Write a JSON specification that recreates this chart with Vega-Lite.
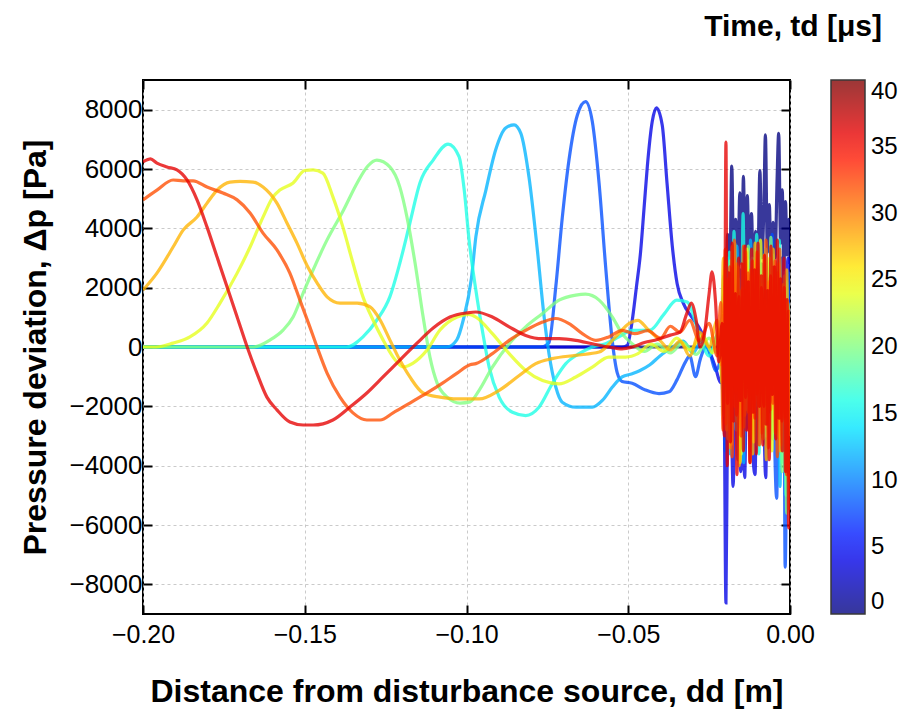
{
"$schema": "https://vega.github.io/schema/vega-lite/v6.json",
"width": 647, "height": 534,
"autosize": "none",
"padding": {"left": 143, "top": 80, "right": 111, "bottom": 99},
"background": "white",
"title": {"text": "Time, td [μs]", "anchor": "end", "frame": "group", "orient": "top", "dx": 92, "offset": 37, "fontSize": 30, "fontWeight": "bold", "font": "Liberation Sans", "color": "black", "limit": 0},
"config": {"view": {"stroke": "black", "strokeWidth": 2}, "font": "Liberation Sans"},
"datasets": {"d": [
{"t":0,"x":-0.2,"y":0},{"t":0,"x":-0.022,"y":0},{"t":0,"x":-0.0212,"y":300},{"t":0,"x":-0.0205,"y":1800},{"t":0,"x":-0.02,"y":900},{"t":0,"x":-0.0193,"y":3800},{"t":0,"x":-0.0187,"y":1500},{"t":0,"x":-0.018,"y":6100},{"t":0,"x":-0.0174,"y":2600},{"t":0,"x":-0.0168,"y":4300},{"t":0,"x":-0.0162,"y":2000},{"t":0,"x":-0.0155,"y":5200},{"t":0,"x":-0.0149,"y":2800},{"t":0,"x":-0.0144,"y":5750},{"t":0,"x":-0.0138,"y":2200},{"t":0,"x":-0.0132,"y":5100},{"t":0,"x":-0.0126,"y":3000},{"t":0,"x":-0.0119,"y":4500},{"t":0,"x":-0.0113,"y":2200},{"t":0,"x":-0.0106,"y":3900},{"t":0,"x":-0.01,"y":2500},{"t":0,"x":-0.0093,"y":5950},{"t":0,"x":-0.0087,"y":3000},{"t":0,"x":-0.0081,"y":4600},{"t":0,"x":-0.0076,"y":7150},{"t":0,"x":-0.007,"y":3200},{"t":0,"x":-0.0064,"y":4800},{"t":0,"x":-0.0058,"y":2400},{"t":0,"x":-0.0052,"y":4200},{"t":0,"x":-0.0046,"y":3000},{"t":0,"x":-0.004,"y":5600},{"t":0,"x":-0.0035,"y":7200},{"t":0,"x":-0.0029,"y":3500},{"t":0,"x":-0.0024,"y":5300},{"t":0,"x":-0.0019,"y":2600},{"t":0,"x":-0.0014,"y":4900},{"t":0,"x":-0.0009,"y":3100},{"t":0,"x":-0.0004,"y":4300},{"t":0,"x":0,"y":2800},
{"t":4,"x":-0.2,"y":0},{"t":4,"x":-0.052,"y":0},{"t":4,"x":-0.0503,"y":60},{"t":4,"x":-0.0488,"y":870},{"t":4,"x":-0.0475,"y":2000},{"t":4,"x":-0.0462,"y":3190},{"t":4,"x":-0.0451,"y":4700},{"t":4,"x":-0.0441,"y":6090},{"t":4,"x":-0.0426,"y":7590},{"t":4,"x":-0.0413,"y":8060},{"t":4,"x":-0.0395,"y":7480},{"t":4,"x":-0.038,"y":5510},{"t":4,"x":-0.0364,"y":3420},{"t":4,"x":-0.0349,"y":2140},{"t":4,"x":-0.033,"y":1480},{"t":4,"x":-0.0302,"y":985},{"t":4,"x":-0.0278,"y":600},{"t":4,"x":-0.025,"y":-100},{"t":4,"x":-0.023,"y":-700},{"t":4,"x":-0.0215,"y":-1200},{"t":4,"x":-0.0205,"y":-300},{"t":4,"x":-0.0198,"y":-8630},{"t":4,"x":-0.0193,"y":-2000},{"t":4,"x":-0.0186,"y":1500},{"t":4,"x":-0.018,"y":-3000},{"t":4,"x":-0.0176,"y":-4700},{"t":4,"x":-0.017,"y":-1500},{"t":4,"x":-0.0164,"y":2000},{"t":4,"x":-0.0158,"y":-2500},{"t":4,"x":-0.0152,"y":-4200},{"t":4,"x":-0.0146,"y":-3000},{"t":4,"x":-0.014,"y":-4400},{"t":4,"x":-0.0133,"y":500},{"t":4,"x":-0.0127,"y":-2800},{"t":4,"x":-0.012,"y":2200},{"t":4,"x":-0.0114,"y":-3800},{"t":4,"x":-0.0108,"y":-4300},{"t":4,"x":-0.0101,"y":1000},{"t":4,"x":-0.0095,"y":-2500},{"t":4,"x":-0.0088,"y":2800},{"t":4,"x":-0.0082,"y":-1500},{"t":4,"x":-0.0075,"y":-4400},{"t":4,"x":-0.0068,"y":1500},{"t":4,"x":-0.0061,"y":-2200},{"t":4,"x":-0.0054,"y":2500},{"t":4,"x":-0.0047,"y":-1800},{"t":4,"x":-0.004,"y":1200},{"t":4,"x":-0.0033,"y":-2800},{"t":4,"x":-0.0026,"y":3000},{"t":4,"x":-0.0019,"y":-1000},{"t":4,"x":-0.0012,"y":1500},{"t":4,"x":-0.0006,"y":3000},{"t":4,"x":0,"y":1200},
{"t":8,"x":-0.2,"y":0},{"t":8,"x":-0.077,"y":0},{"t":8,"x":-0.0745,"y":150},{"t":8,"x":-0.0724,"y":2030},{"t":8,"x":-0.0704,"y":4350},{"t":8,"x":-0.0683,"y":6320},{"t":8,"x":-0.0657,"y":7830},{"t":8,"x":-0.0632,"y":8270},{"t":8,"x":-0.0611,"y":7590},{"t":8,"x":-0.059,"y":5500},{"t":8,"x":-0.057,"y":2720},{"t":8,"x":-0.0549,"y":170},{"t":8,"x":-0.0534,"y":-870},{"t":8,"x":-0.0519,"y":-1160},{"t":8,"x":-0.0488,"y":-1220},{"t":8,"x":-0.0447,"y":-1450},{"t":8,"x":-0.0405,"y":-1570},{"t":8,"x":-0.0374,"y":-1510},{"t":8,"x":-0.0349,"y":-1100},{"t":8,"x":-0.0323,"y":-500},{"t":8,"x":-0.031,"y":-300},{"t":8,"x":-0.0292,"y":-1000},{"t":8,"x":-0.0277,"y":-400},{"t":8,"x":-0.026,"y":0},{"t":8,"x":-0.0245,"y":-300},{"t":8,"x":-0.023,"y":-800},{"t":8,"x":-0.0215,"y":-400},{"t":8,"x":-0.0207,"y":1200},{"t":8,"x":-0.02,"y":-3500},{"t":8,"x":-0.0194,"y":2500},{"t":8,"x":-0.0188,"y":-1000},{"t":8,"x":-0.0181,"y":3200},{"t":8,"x":-0.0175,"y":-2500},{"t":8,"x":-0.0168,"y":1800},{"t":8,"x":-0.0161,"y":-3800},{"t":8,"x":-0.0154,"y":2600},{"t":8,"x":-0.0147,"y":-1200},{"t":8,"x":-0.014,"y":3300},{"t":8,"x":-0.0133,"y":-2600},{"t":8,"x":-0.0126,"y":1500},{"t":8,"x":-0.0119,"y":-3500},{"t":8,"x":-0.0111,"y":2800},{"t":8,"x":-0.0104,"y":-1500},{"t":8,"x":-0.0097,"y":3500},{"t":8,"x":-0.009,"y":-2500},{"t":8,"x":-0.0083,"y":1800},{"t":8,"x":-0.0076,"y":-3200},{"t":8,"x":-0.0069,"y":2300},{"t":8,"x":-0.0062,"y":-1800},{"t":8,"x":-0.0055,"y":3800},{"t":8,"x":-0.0048,"y":-2800},{"t":8,"x":-0.0041,"y":-5100},{"t":8,"x":-0.0034,"y":2500},{"t":8,"x":-0.0027,"y":-1500},{"t":8,"x":-0.002,"y":3000},{"t":8,"x":-0.0015,"y":-7420},{"t":8,"x":-0.0009,"y":-2000},{"t":8,"x":-0.0004,"y":2500},{"t":8,"x":0,"y":-1500},
{"t":12,"x":-0.2,"y":0},{"t":12,"x":-0.106,"y":0},{"t":12,"x":-0.103,"y":240},{"t":12,"x":-0.101,"y":910},{"t":12,"x":-0.0985,"y":2300},{"t":12,"x":-0.0971,"y":3720},{"t":12,"x":-0.094,"y":5290},{"t":12,"x":-0.091,"y":6640},{"t":12,"x":-0.0879,"y":7380},{"t":12,"x":-0.0853,"y":7490},{"t":12,"x":-0.0832,"y":7200},{"t":12,"x":-0.0807,"y":5740},{"t":12,"x":-0.0781,"y":3270},{"t":12,"x":-0.076,"y":1010},{"t":12,"x":-0.0745,"y":-225},{"t":12,"x":-0.0724,"y":-1350},{"t":12,"x":-0.0704,"y":-1860},{"t":12,"x":-0.0662,"y":-2030},{"t":12,"x":-0.0611,"y":-2030},{"t":12,"x":-0.058,"y":-1800},{"t":12,"x":-0.0549,"y":-1350},{"t":12,"x":-0.0519,"y":-1010},{"t":12,"x":-0.0488,"y":-900},{"t":12,"x":-0.0465,"y":-800},{"t":12,"x":-0.0433,"y":-600},{"t":12,"x":-0.0402,"y":-300},{"t":12,"x":-0.0362,"y":0},{"t":12,"x":-0.033,"y":200},{"t":12,"x":-0.03,"y":-200},{"t":12,"x":-0.027,"y":300},{"t":12,"x":-0.0245,"y":-200},{"t":12,"x":-0.0225,"y":400},{"t":12,"x":-0.0212,"y":-800},{"t":12,"x":-0.0205,"y":2400},{"t":12,"x":-0.0199,"y":-2200},{"t":12,"x":-0.0192,"y":3000},{"t":12,"x":-0.0185,"y":-3600},{"t":12,"x":-0.0178,"y":2600},{"t":12,"x":-0.0171,"y":-1800},{"t":12,"x":-0.0164,"y":3400},{"t":12,"x":-0.0157,"y":-2800},{"t":12,"x":-0.015,"y":1800},{"t":12,"x":-0.0143,"y":-3900},{"t":12,"x":-0.0136,"y":2200},{"t":12,"x":-0.0129,"y":-1600},{"t":12,"x":-0.0122,"y":3600},{"t":12,"x":-0.0115,"y":-2600},{"t":12,"x":-0.0108,"y":2000},{"t":12,"x":-0.0101,"y":-3300},{"t":12,"x":-0.0094,"y":3000},{"t":12,"x":-0.0087,"y":-1400},{"t":12,"x":-0.008,"y":2400},{"t":12,"x":-0.0073,"y":-3000},{"t":12,"x":-0.0066,"y":1600},{"t":12,"x":-0.0059,"y":-2200},{"t":12,"x":-0.0052,"y":3100},{"t":12,"x":-0.0045,"y":-2600},{"t":12,"x":-0.0038,"y":2000},{"t":12,"x":-0.0031,"y":-4700},{"t":12,"x":-0.0024,"y":1500},{"t":12,"x":-0.0017,"y":-2800},{"t":12,"x":-0.001,"y":2200},{"t":12,"x":-0.0004,"y":-1200},{"t":12,"x":0,"y":800},
{"t":16,"x":-0.2,"y":0},{"t":16,"x":-0.137,"y":0},{"t":16,"x":-0.132,"y":340},{"t":16,"x":-0.1277,"y":910},{"t":16,"x":-0.1237,"y":1690},{"t":16,"x":-0.1206,"y":2830},{"t":16,"x":-0.1175,"y":4180},{"t":16,"x":-0.1144,"y":5530},{"t":16,"x":-0.1103,"y":6300},{"t":16,"x":-0.1057,"y":6840},{"t":16,"x":-0.1023,"y":6420},{"t":16,"x":-0.1007,"y":5290},{"t":16,"x":-0.0992,"y":3600},{"t":16,"x":-0.0971,"y":1910},{"t":16,"x":-0.0951,"y":560},{"t":16,"x":-0.093,"y":-680},{"t":16,"x":-0.0899,"y":-1690},{"t":16,"x":-0.0858,"y":-2200},{"t":16,"x":-0.0817,"y":-2310},{"t":16,"x":-0.0776,"y":-2030},{"t":16,"x":-0.0735,"y":-1240},{"t":16,"x":-0.0693,"y":-560},{"t":16,"x":-0.0652,"y":-225},{"t":16,"x":-0.0611,"y":0},{"t":16,"x":-0.057,"y":110},{"t":16,"x":-0.0529,"y":340},{"t":16,"x":-0.0488,"y":560},{"t":16,"x":-0.0433,"y":570},{"t":16,"x":-0.039,"y":1100},{"t":16,"x":-0.035,"y":1580},{"t":16,"x":-0.0318,"y":1520},{"t":16,"x":-0.0278,"y":340},{"t":16,"x":-0.025,"y":-300},{"t":16,"x":-0.023,"y":200},{"t":16,"x":-0.0215,"y":600},{"t":16,"x":-0.0208,"y":-1500},{"t":16,"x":-0.0201,"y":2700},{"t":16,"x":-0.0194,"y":-2400},{"t":16,"x":-0.0187,"y":3200},{"t":16,"x":-0.018,"y":-1200},{"t":16,"x":-0.0173,"y":3900},{"t":16,"x":-0.0166,"y":-2800},{"t":16,"x":-0.0159,"y":2300},{"t":16,"x":-0.0152,"y":-3400},{"t":16,"x":-0.0145,"y":4500},{"t":16,"x":-0.0138,"y":-1900},{"t":16,"x":-0.0131,"y":2600},{"t":16,"x":-0.0124,"y":-3000},{"t":16,"x":-0.0117,"y":3000},{"t":16,"x":-0.011,"y":-2200},{"t":16,"x":-0.0103,"y":3800},{"t":16,"x":-0.0096,"y":-3600},{"t":16,"x":-0.0089,"y":1800},{"t":16,"x":-0.0082,"y":-2400},{"t":16,"x":-0.0075,"y":3300},{"t":16,"x":-0.0068,"y":-1600},{"t":16,"x":-0.0061,"y":2700},{"t":16,"x":-0.0054,"y":-3100},{"t":16,"x":-0.0047,"y":2200},{"t":16,"x":-0.004,"y":-2000},{"t":16,"x":-0.0033,"y":3600},{"t":16,"x":-0.0026,"y":-3900},{"t":16,"x":-0.0019,"y":1400},{"t":16,"x":-0.0012,"y":-5000},{"t":16,"x":-0.0006,"y":1000},{"t":16,"x":0,"y":-2500},
{"t":20,"x":-0.2,"y":0},{"t":20,"x":-0.166,"y":0},{"t":20,"x":-0.1607,"y":240},{"t":20,"x":-0.1567,"y":570},{"t":20,"x":-0.1536,"y":1010},{"t":20,"x":-0.1505,"y":1820},{"t":20,"x":-0.1474,"y":2600},{"t":20,"x":-0.1431,"y":3610},{"t":20,"x":-0.138,"y":4620},{"t":20,"x":-0.1338,"y":5530},{"t":20,"x":-0.1305,"y":6100},{"t":20,"x":-0.1277,"y":6300},{"t":20,"x":-0.1237,"y":6070},{"t":20,"x":-0.1206,"y":5390},{"t":20,"x":-0.1184,"y":4380},{"t":20,"x":-0.1159,"y":2830},{"t":20,"x":-0.1134,"y":1010},{"t":20,"x":-0.1113,"y":-340},{"t":20,"x":-0.1091,"y":-1210},{"t":20,"x":-0.106,"y":-1690},{"t":20,"x":-0.102,"y":-1890},{"t":20,"x":-0.0989,"y":-1850},{"t":20,"x":-0.0961,"y":-1460},{"t":20,"x":-0.092,"y":-680},{"t":20,"x":-0.0868,"y":110},{"t":20,"x":-0.0817,"y":680},{"t":20,"x":-0.0765,"y":1130},{"t":20,"x":-0.0714,"y":1580},{"t":20,"x":-0.0662,"y":1750},{"t":20,"x":-0.0632,"y":1780},{"t":20,"x":-0.059,"y":1580},{"t":20,"x":-0.0549,"y":1010},{"t":20,"x":-0.0519,"y":450},{"t":20,"x":-0.0488,"y":110},{"t":20,"x":-0.045,"y":-150},{"t":20,"x":-0.041,"y":100},{"t":20,"x":-0.037,"y":-200},{"t":20,"x":-0.033,"y":150},{"t":20,"x":-0.029,"y":-250},{"t":20,"x":-0.025,"y":300},{"t":20,"x":-0.0225,"y":-200},{"t":20,"x":-0.0213,"y":900},{"t":20,"x":-0.0206,"y":-2300},{"t":20,"x":-0.0199,"y":2000},{"t":20,"x":-0.0192,"y":-3100},{"t":20,"x":-0.0185,"y":2900},{"t":20,"x":-0.0178,"y":-1700},{"t":20,"x":-0.0171,"y":3500},{"t":20,"x":-0.0164,"y":-2500},{"t":20,"x":-0.0157,"y":1900},{"t":20,"x":-0.015,"y":-3600},{"t":20,"x":-0.0143,"y":2800},{"t":20,"x":-0.0136,"y":-2100},{"t":20,"x":-0.0129,"y":3400},{"t":20,"x":-0.0122,"y":-2900},{"t":20,"x":-0.0115,"y":2500},{"t":20,"x":-0.0108,"y":-1800},{"t":20,"x":-0.0101,"y":3200},{"t":20,"x":-0.0094,"y":-3300},{"t":20,"x":-0.0087,"y":2100},{"t":20,"x":-0.008,"y":-2700},{"t":20,"x":-0.0073,"y":2900},{"t":20,"x":-0.0066,"y":-1500},{"t":20,"x":-0.0059,"y":3700},{"t":20,"x":-0.0052,"y":-2400},{"t":20,"x":-0.0045,"y":2600},{"t":20,"x":-0.0038,"y":-3000},{"t":20,"x":-0.0031,"y":1900},{"t":20,"x":-0.0024,"y":-4200},{"t":20,"x":-0.0017,"y":2400},{"t":20,"x":-0.001,"y":-5600},{"t":20,"x":-0.0004,"y":800},{"t":20,"x":0,"y":-3000},
{"t":24,"x":-0.2,"y":0},{"t":24,"x":-0.196,"y":0},{"t":24,"x":-0.1907,"y":130},{"t":24,"x":-0.1855,"y":340},{"t":24,"x":-0.1802,"y":810},{"t":24,"x":-0.1762,"y":1480},{"t":24,"x":-0.1709,"y":2490},{"t":24,"x":-0.1669,"y":3370},{"t":24,"x":-0.1629,"y":4380},{"t":24,"x":-0.1598,"y":5060},{"t":24,"x":-0.1577,"y":5290},{"t":24,"x":-0.1536,"y":5530},{"t":24,"x":-0.15,"y":5950},{"t":24,"x":-0.1474,"y":5970},{"t":24,"x":-0.1444,"y":5860},{"t":24,"x":-0.1413,"y":5060},{"t":24,"x":-0.1382,"y":4040},{"t":24,"x":-0.1351,"y":2830},{"t":24,"x":-0.132,"y":1690},{"t":24,"x":-0.1289,"y":910},{"t":24,"x":-0.1258,"y":240},{"t":24,"x":-0.1227,"y":-340},{"t":24,"x":-0.1196,"y":-670},{"t":24,"x":-0.1165,"y":-540},{"t":24,"x":-0.1122,"y":-100},{"t":24,"x":-0.1082,"y":570},{"t":24,"x":-0.1029,"y":1010},{"t":24,"x":-0.0995,"y":1100},{"t":24,"x":-0.0971,"y":1010},{"t":24,"x":-0.092,"y":450},{"t":24,"x":-0.0868,"y":-225},{"t":24,"x":-0.0817,"y":-790},{"t":24,"x":-0.0765,"y":-1130},{"t":24,"x":-0.0714,"y":-1240},{"t":24,"x":-0.0662,"y":-1010},{"t":24,"x":-0.0611,"y":-680},{"t":24,"x":-0.056,"y":-340},{"t":24,"x":-0.0508,"y":-340},{"t":24,"x":-0.047,"y":-225},{"t":24,"x":-0.043,"y":100},{"t":24,"x":-0.039,"y":-150},{"t":24,"x":-0.035,"y":300},{"t":24,"x":-0.031,"y":-100},{"t":24,"x":-0.027,"y":400},{"t":24,"x":-0.024,"y":-200},{"t":24,"x":-0.022,"y":600},{"t":24,"x":-0.021,"y":-1200},{"t":24,"x":-0.0203,"y":2600},{"t":24,"x":-0.0196,"y":-2800},{"t":24,"x":-0.0189,"y":1700},{"t":24,"x":-0.0182,"y":-3300},{"t":24,"x":-0.0175,"y":3000},{"t":24,"x":-0.0168,"y":-1500},{"t":24,"x":-0.0161,"y":2700},{"t":24,"x":-0.0154,"y":-3900},{"t":24,"x":-0.0147,"y":2000},{"t":24,"x":-0.014,"y":-2300},{"t":24,"x":-0.0133,"y":3300},{"t":24,"x":-0.0126,"y":-1800},{"t":24,"x":-0.0119,"y":2400},{"t":24,"x":-0.0112,"y":-3200},{"t":24,"x":-0.0105,"y":2900},{"t":24,"x":-0.0098,"y":-2000},{"t":24,"x":-0.0091,"y":3600},{"t":24,"x":-0.0084,"y":-3100},{"t":24,"x":-0.0077,"y":1600},{"t":24,"x":-0.007,"y":-2500},{"t":24,"x":-0.0063,"y":3000},{"t":24,"x":-0.0056,"y":-3500},{"t":24,"x":-0.0049,"y":2300},{"t":24,"x":-0.0042,"y":-1700},{"t":24,"x":-0.0035,"y":2800},{"t":24,"x":-0.0028,"y":-3300},{"t":24,"x":-0.0021,"y":2100},{"t":24,"x":-0.0014,"y":-2600},{"t":24,"x":-0.0007,"y":1500},{"t":24,"x":0,"y":-1800},
{"t":28,"x":-0.2,"y":1920},{"t":28,"x":-0.1957,"y":2490},{"t":28,"x":-0.1907,"y":3370},{"t":28,"x":-0.1876,"y":3940},{"t":28,"x":-0.1833,"y":4380},{"t":28,"x":-0.1802,"y":4850},{"t":28,"x":-0.1771,"y":5290},{"t":28,"x":-0.1731,"y":5560},{"t":28,"x":-0.17,"y":5580},{"t":28,"x":-0.166,"y":5560},{"t":28,"x":-0.1629,"y":5390},{"t":28,"x":-0.1586,"y":4850},{"t":28,"x":-0.1555,"y":4180},{"t":28,"x":-0.1524,"y":3500},{"t":28,"x":-0.1493,"y":2750},{"t":28,"x":-0.1462,"y":2160},{"t":28,"x":-0.1431,"y":1690},{"t":28,"x":-0.1391,"y":1480},{"t":28,"x":-0.1338,"y":1480},{"t":28,"x":-0.1298,"y":1350},{"t":28,"x":-0.1267,"y":910},{"t":28,"x":-0.1237,"y":240},{"t":28,"x":-0.1206,"y":-440},{"t":28,"x":-0.1175,"y":-1010},{"t":28,"x":-0.1134,"y":-1550},{"t":28,"x":-0.1082,"y":-1690},{"t":28,"x":-0.1029,"y":-1750},{"t":28,"x":-0.0989,"y":-1750},{"t":28,"x":-0.0961,"y":-1750},{"t":28,"x":-0.0899,"y":-1460},{"t":28,"x":-0.0837,"y":-960},{"t":28,"x":-0.0786,"y":-560},{"t":28,"x":-0.0735,"y":-390},{"t":28,"x":-0.0662,"y":-280},{"t":28,"x":-0.059,"y":-170},{"t":28,"x":-0.0539,"y":340},{"t":28,"x":-0.0498,"y":790},{"t":28,"x":-0.047,"y":900},{"t":28,"x":-0.044,"y":600},{"t":28,"x":-0.04,"y":200},{"t":28,"x":-0.037,"y":-100},{"t":28,"x":-0.034,"y":200},{"t":28,"x":-0.031,"y":-300},{"t":28,"x":-0.028,"y":500},{"t":28,"x":-0.025,"y":0},{"t":28,"x":-0.0225,"y":900},{"t":28,"x":-0.0213,"y":-600},{"t":28,"x":-0.0206,"y":3000},{"t":28,"x":-0.0199,"y":-2600},{"t":28,"x":-0.0192,"y":2300},{"t":28,"x":-0.0185,"y":-3400},{"t":28,"x":-0.0178,"y":3400},{"t":28,"x":-0.0171,"y":-2000},{"t":28,"x":-0.0164,"y":2800},{"t":28,"x":-0.0157,"y":-4000},{"t":28,"x":-0.015,"y":1900},{"t":28,"x":-0.0143,"y":-2700},{"t":28,"x":-0.0136,"y":3200},{"t":28,"x":-0.0129,"y":-2200},{"t":28,"x":-0.0122,"y":2600},{"t":28,"x":-0.0115,"y":-3600},{"t":28,"x":-0.0108,"y":3500},{"t":28,"x":-0.0101,"y":-1600},{"t":28,"x":-0.0094,"y":2400},{"t":28,"x":-0.0087,"y":-2900},{"t":28,"x":-0.008,"y":3100},{"t":28,"x":-0.0073,"y":-3800},{"t":28,"x":-0.0066,"y":2200},{"t":28,"x":-0.0059,"y":-2100},{"t":28,"x":-0.0052,"y":3300},{"t":28,"x":-0.0045,"y":-2900},{"t":28,"x":-0.0038,"y":2500},{"t":28,"x":-0.0031,"y":-3500},{"t":28,"x":-0.0024,"y":1800},{"t":28,"x":-0.0017,"y":-2400},{"t":28,"x":-0.001,"y":2600},{"t":28,"x":-0.0004,"y":-4500},{"t":28,"x":0,"y":500},
{"t":32,"x":-0.2,"y":4960},{"t":32,"x":-0.1957,"y":5290},{"t":32,"x":-0.1907,"y":5630},{"t":32,"x":-0.1876,"y":5600},{"t":32,"x":-0.1845,"y":5600},{"t":32,"x":-0.1802,"y":5390},{"t":32,"x":-0.1753,"y":5190},{"t":32,"x":-0.1709,"y":4960},{"t":32,"x":-0.1669,"y":4520},{"t":32,"x":-0.1629,"y":3840},{"t":32,"x":-0.1586,"y":3270},{"t":32,"x":-0.1546,"y":2490},{"t":32,"x":-0.1515,"y":1580},{"t":32,"x":-0.1484,"y":670},{"t":32,"x":-0.1462,"y":0},{"t":32,"x":-0.1431,"y":-880},{"t":32,"x":-0.1391,"y":-1690},{"t":32,"x":-0.1351,"y":-2220},{"t":32,"x":-0.1308,"y":-2460},{"t":32,"x":-0.1267,"y":-2460},{"t":32,"x":-0.1227,"y":-2220},{"t":32,"x":-0.1175,"y":-1890},{"t":32,"x":-0.1122,"y":-1550},{"t":32,"x":-0.1073,"y":-1210},{"t":32,"x":-0.1029,"y":-880},{"t":32,"x":-0.0989,"y":-600},{"t":32,"x":-0.0971,"y":-560},{"t":32,"x":-0.092,"y":-225},{"t":32,"x":-0.0868,"y":225},{"t":32,"x":-0.0817,"y":560},{"t":32,"x":-0.0765,"y":840},{"t":32,"x":-0.0724,"y":960},{"t":32,"x":-0.0683,"y":790},{"t":32,"x":-0.0642,"y":450},{"t":32,"x":-0.06,"y":225},{"t":32,"x":-0.056,"y":340},{"t":32,"x":-0.0519,"y":560},{"t":32,"x":-0.048,"y":450},{"t":32,"x":-0.044,"y":550},{"t":32,"x":-0.04,"y":300},{"t":32,"x":-0.037,"y":700},{"t":32,"x":-0.034,"y":500},{"t":32,"x":-0.031,"y":900},{"t":32,"x":-0.028,"y":200},{"t":32,"x":-0.025,"y":800},{"t":32,"x":-0.0225,"y":-300},{"t":32,"x":-0.0214,"y":1500},{"t":32,"x":-0.0207,"y":-2800},{"t":32,"x":-0.02,"y":3300},{"t":32,"x":-0.0193,"y":-1900},{"t":32,"x":-0.0186,"y":2700},{"t":32,"x":-0.0179,"y":-3700},{"t":32,"x":-0.0172,"y":3600},{"t":32,"x":-0.0165,"y":-2300},{"t":32,"x":-0.0158,"y":1700},{"t":32,"x":-0.0151,"y":-3000},{"t":32,"x":-0.0144,"y":3400},{"t":32,"x":-0.0137,"y":-1700},{"t":32,"x":-0.013,"y":2500},{"t":32,"x":-0.0123,"y":-3900},{"t":32,"x":-0.0116,"y":2900},{"t":32,"x":-0.0109,"y":-2400},{"t":32,"x":-0.0102,"y":3200},{"t":32,"x":-0.0095,"y":-3300},{"t":32,"x":-0.0088,"y":2000},{"t":32,"x":-0.0081,"y":-2000},{"t":32,"x":-0.0074,"y":3600},{"t":32,"x":-0.0067,"y":-3400},{"t":32,"x":-0.006,"y":2400},{"t":32,"x":-0.0053,"y":-1900},{"t":32,"x":-0.0046,"y":2900},{"t":32,"x":-0.0039,"y":-3700},{"t":32,"x":-0.0032,"y":3300},{"t":32,"x":-0.0025,"y":-2500},{"t":32,"x":-0.0018,"y":2000},{"t":32,"x":-0.0011,"y":-4300},{"t":32,"x":-0.0005,"y":1200},{"t":32,"x":0,"y":-5500},
{"t":36,"x":-0.2,"y":6240},{"t":36,"x":-0.1977,"y":6340},{"t":36,"x":-0.1957,"y":6200},{"t":36,"x":-0.1926,"y":6070},{"t":36,"x":-0.1895,"y":5970},{"t":36,"x":-0.1864,"y":5630},{"t":36,"x":-0.1833,"y":4960},{"t":36,"x":-0.1802,"y":4040},{"t":36,"x":-0.1771,"y":3030},{"t":36,"x":-0.174,"y":2020},{"t":36,"x":-0.1709,"y":1010},{"t":36,"x":-0.1678,"y":0},{"t":36,"x":-0.1648,"y":-880},{"t":36,"x":-0.1617,"y":-1690},{"t":36,"x":-0.1586,"y":-2120},{"t":36,"x":-0.1546,"y":-2530},{"t":36,"x":-0.1505,"y":-2630},{"t":36,"x":-0.1474,"y":-2630},{"t":36,"x":-0.1413,"y":-2460},{"t":36,"x":-0.136,"y":-2020},{"t":36,"x":-0.1308,"y":-1550},{"t":36,"x":-0.1258,"y":-1010},{"t":36,"x":-0.1206,"y":-440},{"t":36,"x":-0.1153,"y":130},{"t":36,"x":-0.1103,"y":640},{"t":36,"x":-0.1051,"y":1010},{"t":36,"x":-0.0998,"y":1150},{"t":36,"x":-0.0971,"y":1180},{"t":36,"x":-0.092,"y":1010},{"t":36,"x":-0.0868,"y":680},{"t":36,"x":-0.0817,"y":390},{"t":36,"x":-0.0765,"y":280},{"t":36,"x":-0.0714,"y":280},{"t":36,"x":-0.0662,"y":225},{"t":36,"x":-0.0611,"y":110},{"t":36,"x":-0.056,"y":0},{"t":36,"x":-0.0519,"y":-60},{"t":36,"x":-0.0488,"y":0},{"t":36,"x":-0.045,"y":150},{"t":36,"x":-0.041,"y":250},{"t":36,"x":-0.037,"y":400},{"t":36,"x":-0.034,"y":500},{"t":36,"x":-0.032,"y":1100},{"t":36,"x":-0.0305,"y":1480},{"t":36,"x":-0.029,"y":900},{"t":36,"x":-0.0278,"y":0},{"t":36,"x":-0.0265,"y":400},{"t":36,"x":-0.025,"y":1800},{"t":36,"x":-0.0241,"y":2530},{"t":36,"x":-0.023,"y":1500},{"t":36,"x":-0.022,"y":-500},{"t":36,"x":-0.021,"y":800},{"t":36,"x":-0.0203,"y":-3000},{"t":36,"x":-0.0198,"y":6910},{"t":36,"x":-0.0194,"y":-4000},{"t":36,"x":-0.0189,"y":2500},{"t":36,"x":-0.0184,"y":-3200},{"t":36,"x":-0.0179,"y":3500},{"t":36,"x":-0.0174,"y":-2500},{"t":36,"x":-0.0169,"y":1800},{"t":36,"x":-0.0164,"y":-4300},{"t":36,"x":-0.0159,"y":3000},{"t":36,"x":-0.0154,"y":-1800},{"t":36,"x":-0.0149,"y":2800},{"t":36,"x":-0.0144,"y":-3500},{"t":36,"x":-0.0139,"y":3400},{"t":36,"x":-0.0134,"y":-2800},{"t":36,"x":-0.0129,"y":2200},{"t":36,"x":-0.0124,"y":-3900},{"t":36,"x":-0.0119,"y":3300},{"t":36,"x":-0.0114,"y":-2200},{"t":36,"x":-0.0109,"y":2600},{"t":36,"x":-0.0104,"y":-3600},{"t":36,"x":-0.0099,"y":3500},{"t":36,"x":-0.0094,"y":-2000},{"t":36,"x":-0.0089,"y":2400},{"t":36,"x":-0.0084,"y":-3300},{"t":36,"x":-0.0079,"y":3100},{"t":36,"x":-0.0074,"y":-2600},{"t":36,"x":-0.0069,"y":1900},{"t":36,"x":-0.0064,"y":-3800},{"t":36,"x":-0.0059,"y":3400},{"t":36,"x":-0.0054,"y":-1600},{"t":36,"x":-0.0049,"y":2700},{"t":36,"x":-0.0044,"y":-3100},{"t":36,"x":-0.0039,"y":3600},{"t":36,"x":-0.0034,"y":-2400},{"t":36,"x":-0.0029,"y":2300},{"t":36,"x":-0.0024,"y":-3500},{"t":36,"x":-0.0019,"y":3000},{"t":36,"x":-0.0014,"y":-4200},{"t":36,"x":-0.0009,"y":1600},{"t":36,"x":-0.0004,"y":-6100},{"t":36,"x":0,"y":-3000}
]},
"data": {"name": "d"},
"layer": [
{
"mark": {"type": "line", "interpolate": "monotone", "strokeWidth": 3.2, "opacity": 0.78, "clip": true},
"encoding": {
"x": {"field": "x", "type": "quantitative", "scale": {"domain": [-0.2, 0], "nice": false, "zero": false},
 "axis": {"orient": "bottom", "values": [-0.2, -0.15, -0.1, -0.05, 0], "format": ".2f", "labelFontSize": 25, "labelColor": "black", "labelPadding": 17, "tickSize": -9, "tickWidth": 2, "tickColor": "black", "domain": false, "grid": true, "gridDash": [3, 3], "gridColor": "#bdbdbd", "gridWidth": 0.8, "title": "Distance from disturbance source, dd [m]", "titleFontSize": 32, "titleFontWeight": "bold", "titleColor": "black", "titlePadding": 29, "labelFlush": false}},
"y": {"field": "y", "type": "quantitative", "scale": {"domain": [-9000, 9000], "nice": false},
 "axis": {"orient": "left", "values": [-8000, -6000, -4000, -2000, 0, 2000, 4000, 6000, 8000], "format": "d", "labelFontSize": 26, "labelColor": "black", "labelPadding": 10, "tickSize": -9, "tickWidth": 2, "tickColor": "black", "domain": false, "grid": true, "gridDash": [3, 3], "gridColor": "#bdbdbd", "gridWidth": 0.8, "title": "Pressure deviation, Δp [Pa]", "titleFontSize": 32, "titleFontWeight": "bold", "titleColor": "black", "titlePadding": 16}},
"color": {"field": "t", "type": "quantitative", "scale": {"domain": [0, 40], "range": ["#00007f", "#0000ff", "#0080ff", "#00ffff", "#80ff80", "#ffff00", "#ff8000", "#ff0000", "#800000"], "interpolate": "rgb"},
 "legend": {"orient": "none", "legendX": 688, "legendY": 0, "direction": "vertical", "gradientLength": 534, "gradientThickness": 34, "values": [0, 5, 10, 15, 20, 25, 30, 35, 40], "labelFontSize": 24, "labelColor": "black", "labelOffset": 6, "title": null, "gradientStrokeColor": "black", "gradientStrokeWidth": 1.5}},
"detail": {"field": "t", "type": "nominal"}
}
},
{
"mark": {"type": "line", "opacity": 0},
"encoding": {
"x": {"field": "x", "type": "quantitative", "axis": {"orient": "top", "values": [-0.2, -0.15, -0.1, -0.05, 0], "labels": false, "title": null, "tickSize": -9, "tickWidth": 2, "tickColor": "black", "domain": false, "grid": false}},
"y": {"field": "y", "type": "quantitative", "axis": {"orient": "right", "values": [-8000, -6000, -4000, -2000, 0, 2000, 4000, 6000, 8000], "labels": false, "title": null, "tickSize": -9, "tickWidth": 2, "tickColor": "black", "domain": false, "grid": false}},
"detail": {"field": "t", "type": "nominal"}
}
}
],
"resolve": {"axis": {"x": "independent", "y": "independent"}}
}
